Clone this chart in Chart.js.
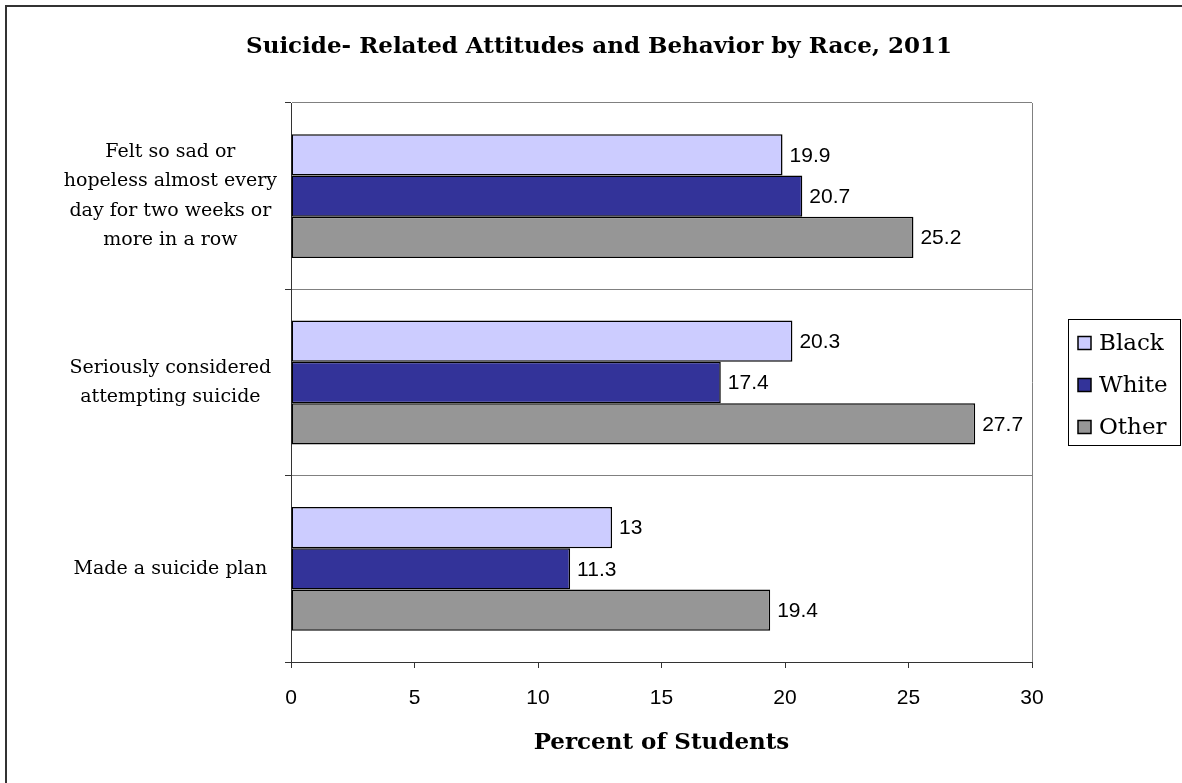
<!DOCTYPE html>
<html>
<head>
<meta charset="utf-8">
<script src="https://cdn.jsdelivr.net/npm/chart.js@4/dist/chart.umd.min.js"></script>
<style>
  html, body { margin: 0; padding: 0; background: #fff; }
  #wrap { width: 1182px; height: 783px; position: relative; }
</style>
</head>
<body>
<div id="wrap"><canvas id="c" width="1182" height="783"></canvas></div>
<script>
const chartTitle = "Suicide- Related Attitudes and Behavior by Race, 2011";
const axisTitle = "Percent of Students";
const categories = [
  ["Felt so sad or", "hopeless almost every", "day for two weeks or", "more in a row"],
  ["Seriously considered", "attempting suicide"],
  ["Made a suicide plan"]
];
const seriesNames = ["Black", "White", "Other"];
const blackValues = [19.9, 20.3, 13];
const whiteValues = [20.7, 17.4, 11.3];
const otherValues = [25.2, 27.7, 19.4];
const seriesColors = ["#CCCCFF", "#333399", "#969696"];
const xTicks = [0, 5, 10, 15, 20, 25, 30];

const serif = "'DejaVu Serif', serif";
const sans = "'Liberation Sans', Arial, sans-serif";

const decorPlugin = {
  id: 'decor',
  beforeDraw(chart) {
    const ctx = chart.ctx;
    ctx.save();
    ctx.fillStyle = '#fff';
    ctx.fillRect(0, 0, chart.width, chart.height);
    ctx.strokeStyle = '#333';
    ctx.lineWidth = 2;
    ctx.strokeRect(6, 6, chart.width + 20, chart.height + 20);
    ctx.restore();
  },
  afterDatasetsDraw(chart) {
    const ctx = chart.ctx;
    ctx.save();
    ctx.font = "21px " + sans;
    ctx.fillStyle = '#000';
    ctx.textAlign = 'left';
    ctx.textBaseline = 'middle';
    chart.data.datasets.forEach((ds, i) => {
      const meta = chart.getDatasetMeta(i);
      meta.data.forEach((bar, j) => {
        ctx.fillText(String(ds.data[j]), bar.x + 7, bar.y + 1);
      });
    });
    ctx.restore();
  },
  afterDraw(chart) {
    const ctx = chart.ctx;
    ctx.save();
    // title
    ctx.font = "bold 23px " + serif;
    ctx.fillStyle = '#000';
    ctx.textAlign = 'center';
    ctx.textBaseline = 'middle';
    ctx.fillText(chartTitle, 599, 47);
    // legend
    const lx = 1068, ly = 319, lw = 112, lh = 126;
    ctx.strokeStyle = '#000';
    ctx.lineWidth = 1;
    ctx.strokeRect(lx + 0.5, ly + 0.5, lw, lh);
    ctx.font = "23px " + serif;
    ctx.textAlign = 'left';
    chart.data.datasets.forEach((ds, i) => {
      const cy = 343 + i * 42;
      ctx.fillStyle = ds.backgroundColor;
      ctx.fillRect(1078, cy - 6.5, 13, 13);
      ctx.lineWidth = 1.5;
      ctx.strokeStyle = '#000';
      ctx.strokeRect(1078, cy - 6.5, 13, 13);
      ctx.fillStyle = '#000';
      ctx.fillText(ds.label, 1099, cy + 1);
    });
    ctx.restore();
  }
};

const datasetValues = [blackValues, whiteValues, otherValues];
new Chart(document.getElementById('c'), {
  type: 'bar',
  data: {
    labels: categories,
    datasets: seriesNames.map((name, i) => ({
      label: name,
      data: datasetValues[i],
      backgroundColor: seriesColors[i],
      borderColor: '#000',
      borderWidth: 1.5,
      borderSkipped: false,
      categoryPercentage: 0.665,
      barPercentage: 1
    }))
  },
  options: {
    indexAxis: 'y',
    responsive: false,
    animation: false,
    layout: { padding: { top: 103, right: 150, left: 0, bottom: 0 } },
    plugins: {
      legend: { display: false },
      title: { display: false },
      tooltip: { enabled: false }
    },
    scales: {
      x: {
        min: xTicks[0],
        max: xTicks[xTicks.length - 1],
        afterBuildTicks(scale) { scale.ticks = xTicks.map(v => ({ value: v })); },
        ticks: { font: { size: 21, family: sans }, color: '#000', padding: 18 },
        grid: {
          drawOnChartArea: true,
          color: (c) => (c.index === xTicks.length - 1 ? '#808080' : 'rgba(0,0,0,0)'),
          tickColor: '#333',
          tickLength: 6,
          lineWidth: 1
        },
        border: { color: '#333', width: 1 },
        title: {
          display: true,
          text: axisTitle,
          color: '#000',
          font: { size: 23, family: serif, weight: 'bold' },
          padding: { top: 0, bottom: 26 }
        },
        afterFit(scale) { scale.height = 121; }
      },
      y: {
        grid: {
          offset: true,
          color: '#808080',
          tickColor: '#333',
          tickLength: 6,
          lineWidth: 1
        },
        border: { color: '#333', width: 1 },
        ticks: {
          font: { size: 19, family: serif, lineHeight: 1.55 },
          color: '#000',
          crossAlign: 'center',
          padding: 8
        },
        afterFit(scale) { scale.width = 291; }
      }
    }
  },
  plugins: [decorPlugin]
});
</script>
</body>
</html>
